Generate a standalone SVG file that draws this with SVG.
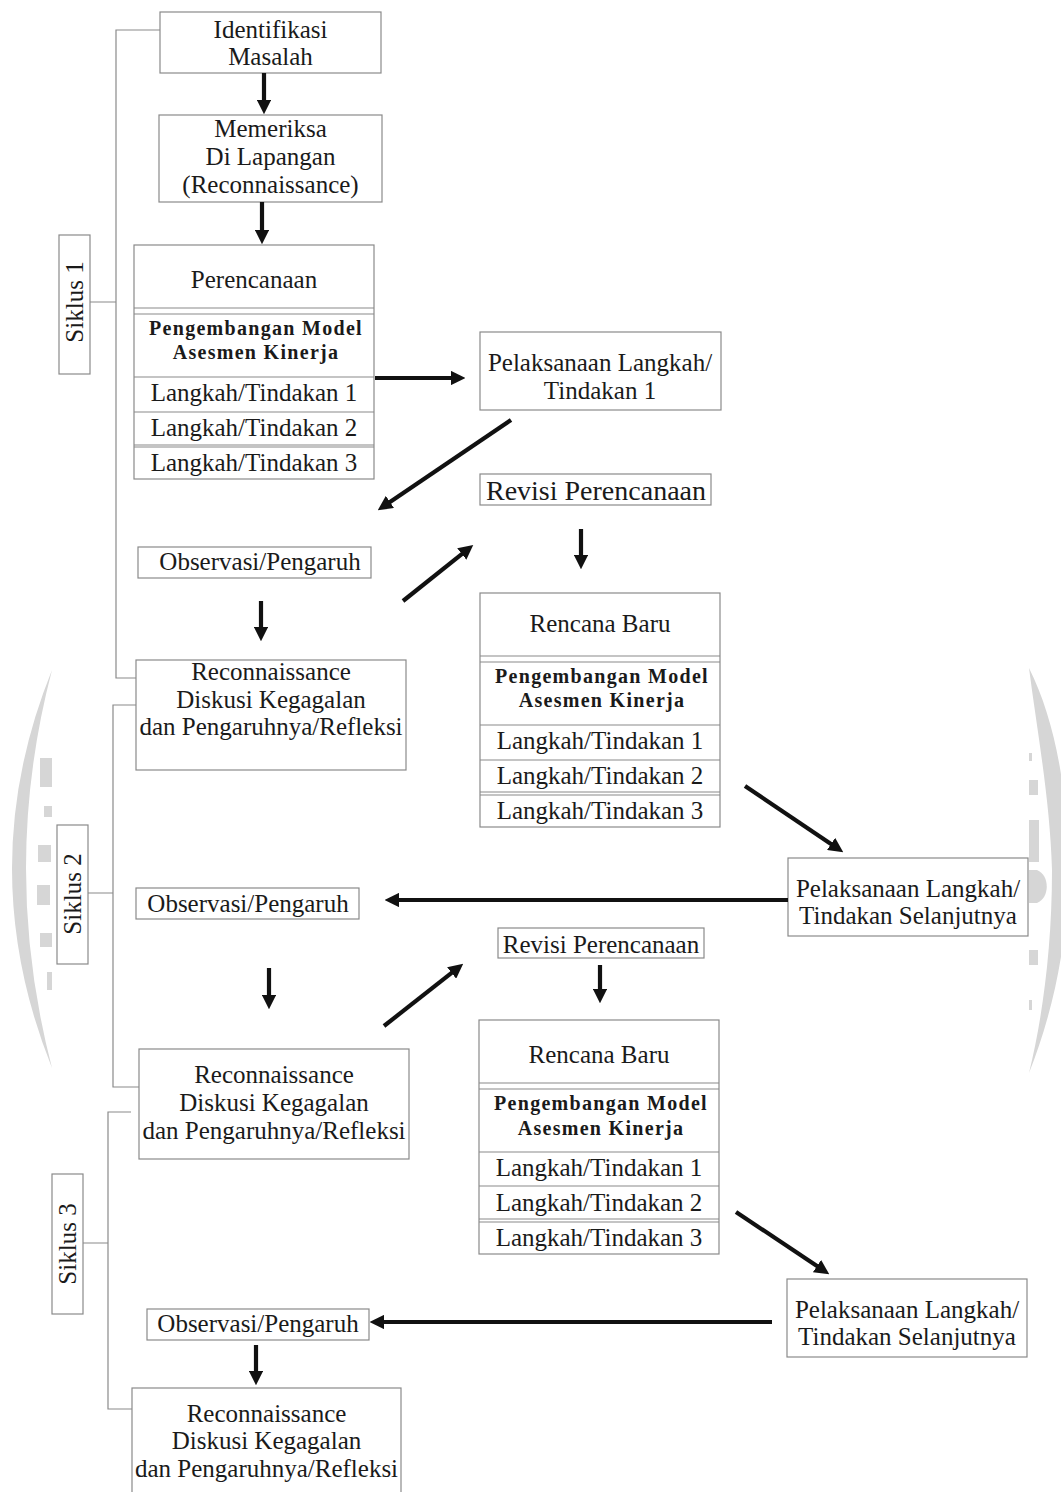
<svg xmlns="http://www.w3.org/2000/svg" width="1061" height="1492" viewBox="0 0 1061 1492">
<defs>
<style>
.box{fill:#fff;stroke:#8a8a8a;stroke-width:1.2}
.sep{fill:none;stroke:#8a8a8a;stroke-width:1.2}
.t{font-family:"Liberation Serif","Times New Roman",serif;font-size:25px;fill:#1a1a1a;text-anchor:middle}
.b{font-weight:bold;font-size:20px;letter-spacing:1.3px}
.big{font-size:28px}
.br{fill:none;stroke:#8a8a8a;stroke-width:1.2}
.arr{fill:none;stroke:#111;stroke-width:4.2;marker-end:url(#ah)}
.wm{fill:#d6d6d6}
</style>
<marker id="ah" viewBox="0 0 10 10" refX="3" refY="5" markerWidth="3.5" markerHeight="3.5" orient="auto">
<path d="M0,0 L10,5 L0,10 Z" fill="#111"/>
</marker>
</defs>
<rect width="1061" height="1492" fill="#fff"/>

<g id="watermark">
<path class="wm" d="M52,670 Q-28,868 52,1068 Q0,868 52,670 Z"/>
<rect class="wm" x="40" y="758" width="12" height="29"/>
<rect class="wm" x="44" y="806" width="8" height="11"/>
<rect class="wm" x="38" y="845" width="13" height="17"/>
<rect class="wm" x="37" y="885" width="13" height="20"/>
<rect class="wm" x="40" y="933" width="12" height="14"/>
<rect class="wm" x="47" y="972" width="5" height="18"/>
<path class="wm" d="M1029,668 C1037,730 1050,800 1052,870 C1052,950 1042,1020 1029,1073 C1050,1020 1068,950 1068,870 C1068,790 1055,720 1029,668 Z"/>
<rect class="wm" x="1029" y="753" width="3" height="8"/>
<rect class="wm" x="1029" y="780" width="9" height="15"/>
<rect class="wm" x="1029" y="820" width="10" height="42"/>
<path class="wm" d="M1029,870 L1037,870 C1050,875 1050,898 1037,903 L1029,903 Z"/>
<rect class="wm" x="1029" y="950" width="9" height="15"/>
<rect class="wm" x="1029" y="1000" width="3" height="10"/>
</g>

<g id="brackets">
<path class="br" d="M160,30 H116 V678 H136 M89,302 H116"/>
<path class="br" d="M136,705 H113 V1087 H139 M88,893 H113"/>
<path class="br" d="M131,1112 H108 V1409 H137 M83,1243 H108"/>
</g>

<g id="siklus1">
<rect class="box" x="59" y="235" width="31" height="139"/>
<text class="t" x="83" y="302" transform="rotate(-90 83 302)">Siklus 1</text>
</g>
<g id="siklus2">
<rect class="box" x="57" y="825" width="31" height="139"/>
<text class="t" x="81" y="894" transform="rotate(-90 81 894)">Siklus 2</text>
</g>
<g id="siklus3">
<rect class="box" x="52" y="1174" width="31" height="140"/>
<text class="t" x="76" y="1244" transform="rotate(-90 76 1244)">Siklus 3</text>
</g>

<g id="identifikasi">
<rect class="box" x="160" y="12" width="221" height="61"/>
<text class="t" x="270.5" y="38">Identifikasi</text>
<text class="t" x="270.5" y="65">Masalah</text>
</g>

<g id="memeriksa">
<rect class="box" x="159" y="115" width="223" height="87"/>
<text class="t" x="270.5" y="137">Memeriksa</text>
<text class="t" x="270.5" y="165">Di Lapangan</text>
<text class="t" x="270.5" y="193">(Reconnaissance)</text>
</g>

<g id="perencanaan">
<rect class="box" x="134" y="245" width="240" height="234"/>
<path class="sep" d="M134,308 H374 M134,314 H374 M134,377 H374 M134,412 H374 M134,445 H374 M134,447 H374"/>
<text class="t" x="254" y="288">Perencanaan</text>
<text class="t b" x="256" y="335">Pengembangan Model</text>
<text class="t b" x="256" y="359">Asesmen Kinerja</text>
<text class="t" x="254" y="401">Langkah/Tindakan 1</text>
<text class="t" x="254" y="436">Langkah/Tindakan 2</text>
<text class="t" x="254" y="471">Langkah/Tindakan 3</text>
</g>

<g id="pelaksanaan1">
<rect class="box" x="480" y="332" width="241" height="78"/>
<text class="t" x="600" y="371">Pelaksanaan Langkah/</text>
<text class="t" x="600" y="399">Tindakan 1</text>
</g>

<g id="revisi1">
<rect class="box" x="480" y="474" width="231" height="31"/>
<text class="t big" x="596" y="500">Revisi Perencanaan</text>
</g>

<g id="observasi1">
<rect class="box" x="138" y="547" width="233" height="31"/>
<text class="t" x="260" y="570">Observasi/Pengaruh</text>
</g>

<g id="reconnaissance1">
<rect class="box" x="136" y="660" width="270" height="110"/>
<text class="t" x="271" y="680">Reconnaissance</text>
<text class="t" x="271" y="708">Diskusi Kegagalan</text>
<text class="t" x="271" y="735">dan Pengaruhnya/Refleksi</text>
</g>

<g id="rencanabaru1">
<rect class="box" x="480" y="593" width="240" height="234"/>
<path class="sep" d="M480,656 H720 M480,662 H720 M480,725 H720 M480,760 H720 M480,792 H720 M480,795 H720"/>
<text class="t" x="600" y="632">Rencana Baru</text>
<text class="t b" x="602" y="683">Pengembangan Model</text>
<text class="t b" x="602" y="707">Asesmen Kinerja</text>
<text class="t" x="600" y="749">Langkah/Tindakan 1</text>
<text class="t" x="600" y="784">Langkah/Tindakan 2</text>
<text class="t" x="600" y="819">Langkah/Tindakan 3</text>
</g>

<g id="pelaksanaan2">
<rect class="box" x="788" y="858" width="240" height="78"/>
<text class="t" x="908" y="897">Pelaksanaan Langkah/</text>
<text class="t" x="908" y="924">Tindakan Selanjutnya</text>
</g>

<g id="observasi2">
<rect class="box" x="136" y="888" width="223" height="31"/>
<text class="t" x="248" y="912">Observasi/Pengaruh</text>
</g>

<g id="revisi2">
<rect class="box" x="498" y="928" width="206" height="30"/>
<text class="t" x="601" y="953">Revisi Perencanaan</text>
</g>

<g id="reconnaissance2">
<rect class="box" x="139" y="1049" width="270" height="110"/>
<text class="t" x="274" y="1083">Reconnaissance</text>
<text class="t" x="274" y="1111">Diskusi Kegagalan</text>
<text class="t" x="274" y="1139">dan Pengaruhnya/Refleksi</text>
</g>

<g id="rencanabaru2">
<rect class="box" x="479" y="1020" width="240" height="234"/>
<path class="sep" d="M479,1083 H719 M479,1089 H719 M479,1152 H719 M479,1186 H719 M479,1219 H719 M479,1222 H719"/>
<text class="t" x="599" y="1063">Rencana Baru</text>
<text class="t b" x="601" y="1110">Pengembangan Model</text>
<text class="t b" x="601" y="1135">Asesmen Kinerja</text>
<text class="t" x="599" y="1176">Langkah/Tindakan 1</text>
<text class="t" x="599" y="1211">Langkah/Tindakan 2</text>
<text class="t" x="599" y="1246">Langkah/Tindakan 3</text>
</g>

<g id="pelaksanaan3">
<rect class="box" x="787" y="1279" width="240" height="78"/>
<text class="t" x="907" y="1318">Pelaksanaan Langkah/</text>
<text class="t" x="907" y="1345">Tindakan Selanjutnya</text>
</g>

<g id="observasi3">
<rect class="box" x="147" y="1309" width="222" height="31"/>
<text class="t" x="258" y="1332">Observasi/Pengaruh</text>
</g>

<g id="reconnaissance3">
<rect class="box" x="132" y="1388" width="269" height="110"/>
<text class="t" x="266.5" y="1422">Reconnaissance</text>
<text class="t" x="266.5" y="1449">Diskusi Kegagalan</text>
<text class="t" x="266.5" y="1477">dan Pengaruhnya/Refleksi</text>
</g>

<g id="connectors">
<path class="arr" d="M264,73 V104"/>
<path class="arr" d="M262,202 V234"/>
<path class="arr" d="M375,378 H455"/>
<path class="arr" d="M511,420 L386.3,504.4"/>
<path class="arr" d="M403,601 L465.2,551.3"/>
<path class="arr" d="M581,529 V559"/>
<path class="arr" d="M261,601 V631"/>
<path class="arr" d="M745,786 L834.7,846.4"/>
<path class="arr" d="M788,900 H395"/>
<path class="arr" d="M269,968 V999"/>
<path class="arr" d="M600,965 V993"/>
<path class="arr" d="M384,1026 L455.1,970.2"/>
<path class="arr" d="M736,1212 L820.7,1268.5"/>
<path class="arr" d="M772,1322 H380"/>
<path class="arr" d="M256,1345 V1375"/>
</g>
</svg>
